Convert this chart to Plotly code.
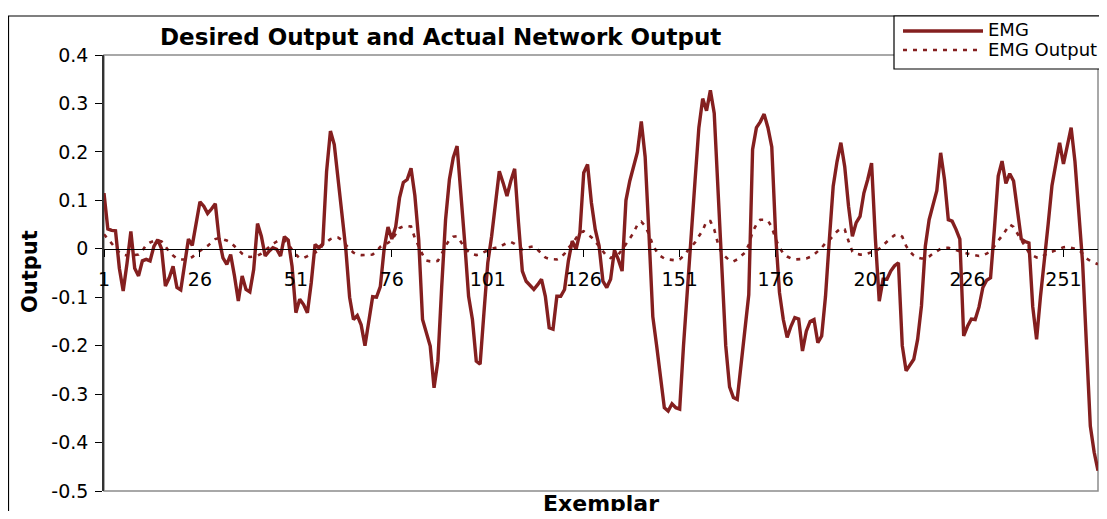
import plotly.graph_objects as go

# ---------------- data ----------------
emg = [
    0.115, 0.041, 0.038, 0.037, -0.04, -0.087, -0.03, 0.036, -0.04, -0.056,
    -0.025, -0.022, -0.025, 0.005, 0.019, 0.0, -0.077, -0.06, -0.036, -0.08,
    -0.085, -0.032, 0.02, 0.007, 0.05, 0.097, 0.088, 0.073, 0.082, 0.093,
    0.02, -0.019, -0.032, -0.012, -0.056, -0.108, -0.056, -0.084, -0.089, -0.043,
    0.052, 0.026, -0.015, -0.005, 0.002, -0.001, -0.015, 0.025, 0.018, -0.036,
    -0.132, -0.104, -0.115, -0.132, -0.07, 0.009, 0.002, 0.01, 0.16, 0.243,
    0.215, 0.143, 0.067, 0.0, -0.1, -0.146, -0.138, -0.157, -0.2, -0.146,
    -0.099, -0.1, -0.078, 0.0, 0.045, 0.02, 0.045, 0.105, 0.137, 0.143,
    0.166, 0.11, 0.019, -0.146, -0.177, -0.201, -0.287, -0.232, -0.077, 0.06,
    0.143, 0.188, 0.212, 0.122, 0.012, -0.098, -0.146, -0.232, -0.238, -0.132,
    -0.029, 0.026, 0.095, 0.16, 0.136, 0.109, 0.14, 0.165, 0.054, -0.046,
    -0.067, -0.075, -0.084, -0.074, -0.063, -0.098, -0.163, -0.166, -0.098, -0.098,
    -0.084, -0.025, 0.016, -0.001, 0.033, 0.157, 0.174, 0.095, 0.04, 0.006,
    -0.067, -0.08, -0.063, -0.003, -0.022, -0.046, 0.1, 0.14, 0.17, 0.2,
    0.263, 0.19, 0.03, -0.14, -0.2, -0.27, -0.328, -0.335, -0.32, -0.328,
    -0.331, -0.2, -0.08, 0.03, 0.14, 0.25, 0.31, 0.285, 0.327, 0.28,
    0.12, -0.05, -0.2, -0.285, -0.307, -0.311, -0.235, -0.16, -0.095, 0.205,
    0.25, 0.262, 0.278, 0.25, 0.21, 0.03, -0.09, -0.146, -0.183, -0.16,
    -0.142, -0.145, -0.211, -0.17, -0.15, -0.146, -0.194, -0.18, -0.098, 0.019,
    0.129, 0.18, 0.219, 0.17, 0.088, 0.026, 0.054, 0.067, 0.115, 0.143,
    0.177, 0.02, -0.108, -0.063, -0.063, -0.046, -0.035, -0.029, -0.2, -0.252,
    -0.24, -0.228, -0.187, -0.118, 0.005, 0.06, 0.09, 0.12, 0.198, 0.143,
    0.06, 0.057, 0.04, 0.02, -0.18, -0.16, -0.145, -0.146, -0.12, -0.08,
    -0.065, -0.06, 0.04, 0.15, 0.181, 0.135, 0.155, 0.14, 0.08, 0.02,
    0.015, 0.012, -0.12, -0.187, -0.1, -0.03, 0.05, 0.13, 0.175, 0.219,
    0.175, 0.215, 0.25, 0.18, 0.08, -0.03, -0.2, -0.366, -0.42, -0.458,
]

emg_output = [
    0.03, 0.02, 0.012, 0.0, -0.008, -0.012, -0.014, -0.014, -0.013, -0.012,
    -0.004, 0.008, 0.013, 0.016, 0.017, 0.015, 0.005, -0.006, -0.014, -0.02,
    -0.022, -0.022, -0.02, -0.017, -0.01, -0.004, 0.001, 0.006, 0.013, 0.02,
    0.022, 0.02, 0.017, 0.013, 0.005, -0.004, -0.01, -0.015, -0.017, -0.016,
    -0.014, -0.01, -0.003, 0.004, 0.01, 0.015, 0.019, 0.018, 0.01, -0.002,
    -0.012, -0.019, -0.019, -0.015, -0.01, -0.008, -0.004, 0.008, 0.014, 0.02,
    0.023, 0.023, 0.018, 0.008, -0.001, -0.008, -0.012, -0.013, -0.013, -0.012,
    -0.012, -0.005, 0.004, 0.009, 0.012, 0.018, 0.03, 0.043, 0.046, 0.047,
    0.046, 0.022, 0.005, -0.012, -0.024, -0.026, -0.026, -0.025, -0.01, 0.006,
    0.018, 0.025, 0.026, 0.014, 0.002, -0.006, -0.011, -0.013, -0.011, -0.007,
    -0.003, 0.0, 0.002, 0.003, 0.008, 0.012, 0.014, 0.01, 0.004, -0.001,
    0.002, 0.004, 0.005, -0.002, -0.01, -0.018, -0.021, -0.022, -0.022, -0.018,
    -0.01, 0.002, 0.01, 0.022, 0.033, 0.036, 0.03, 0.024, 0.015, 0.005,
    -0.006, -0.015, -0.019, -0.016, -0.012, -0.002, 0.01, 0.022, 0.033, 0.05,
    0.056, 0.047, 0.03, 0.008, -0.006, -0.015, -0.02, -0.022, -0.023, -0.024,
    -0.022, -0.015, -0.005, 0.005, 0.013, 0.026, 0.038, 0.057, 0.057, 0.04,
    0.01, -0.01, -0.018, -0.024, -0.026, -0.022, -0.015, -0.008, 0.008, 0.035,
    0.05, 0.06, 0.06, 0.058, 0.045, 0.02, 0.003, -0.01, -0.016, -0.02,
    -0.022, -0.022, -0.021, -0.02, -0.017, -0.012, -0.005, 0.002, 0.012, 0.018,
    0.027, 0.036, 0.042, 0.04, 0.016, -0.006, -0.01, -0.012, -0.012, -0.01,
    -0.008, -0.005, 0.0, 0.008, 0.016, 0.022, 0.028, 0.03, 0.025, 0.006,
    -0.006, -0.014, -0.018, -0.02, -0.02, -0.016, -0.01, -0.005, 0.0, 0.002,
    0.002, 0.0, -0.003, -0.006, -0.008, -0.01, -0.012, -0.014, -0.015, -0.013,
    -0.01, -0.005, 0.005, 0.015, 0.027, 0.038, 0.05, 0.045, 0.03, 0.018,
    0.005, -0.008, -0.014, -0.018, -0.019, -0.014, -0.008, -0.006, -0.003, 0.0,
    0.003, 0.004, 0.002, 0.0, -0.002, -0.01, -0.02, -0.025, -0.028, -0.032,
]

exemplar = list(range(1, len(emg) + 1))

x_tick_vals = [1, 26, 51, 76, 101, 126, 151, 176, 201, 226, 251]
x_tick_text = ["1", "26", "51", "76", "101", "126", "151", "176", "201", "226", "251"]
y_tick_vals = [0.4, 0.3, 0.2, 0.1, 0.0, -0.1, -0.2, -0.3, -0.4, -0.5]
y_tick_text = ["0.4", "0.3", "0.2", "0.1", "0", "-0.1", "-0.2", "-0.3", "-0.4", "-0.5"]

series_names = ["EMG", "EMG Output"]
title_text = "Desired Output and Actual Network Output"
x_title = "Exemplar"
y_title = "Output"

# ---------------- style ----------------
RED = "#841F1F"
FONT = "DejaVu Sans"
OFF = 8                      # the page body margin shifts the figure by 8 px
W, H = 1107 - 2 * OFF, 519 - 2 * OFF
# plot area in page pixels: left 104, right 1098, top 55, bottom 491
ML, MT = 104 - OFF, 55 - OFF
MR = W - (1098 - OFF)
MB = H - (491 - OFF)
PW, PH = W - ML - MR, H - MT - MB


def px(xpage):
    return (xpage - OFF - ML) / PW


def py(ypage):
    return (H - MB - (ypage - OFF)) / PH


Y_MIN, Y_MAX = -0.5, 0.4
zero_pos = (0 - Y_MIN) / (Y_MAX - Y_MIN)

fig = go.Figure()
fig.add_trace(go.Scatter(
    x=exemplar, y=emg, mode="lines", name=series_names[0],
    line=dict(color=RED, width=3.4), showlegend=False,
))
fig.add_trace(go.Scatter(
    x=exemplar, y=emg_output, mode="lines", name=series_names[1],
    line=dict(color=RED, width=2.6, dash="4px,6px"), showlegend=False,
))

axis_font = dict(family=FONT, size=19, color="black")

fig.update_layout(
    width=W, height=H,
    margin=dict(l=ML, r=MR, t=MT, b=MB, autoexpand=False),
    paper_bgcolor="white", plot_bgcolor="white",
    showlegend=False,
    xaxis=dict(
        range=[1, len(emg)], anchor="free", position=zero_pos,
        tickmode="array", tickvals=x_tick_vals, ticktext=x_tick_text,
        ticks="outside", ticklen=7, tickcolor="black", tickwidth=1,
        showline=True, linecolor="black", linewidth=1,
        showgrid=False, zeroline=False,
        tickfont=axis_font, ticklabelstandoff=6,
    ),
    xaxis2=dict(
        range=[1, len(emg)], anchor="free", position=zero_pos,
        overlaying="x", matches="x",
        tickmode="array", tickvals=x_tick_vals,
        ticks="inside", ticklen=7, tickcolor="black", tickwidth=1,
        showticklabels=False, showline=False, showgrid=False, zeroline=False,
    ),
    yaxis=dict(
        range=[Y_MIN, Y_MAX],
        tickmode="array", tickvals=y_tick_vals, ticktext=y_tick_text,
        ticks="outside", ticklen=7, tickcolor="black", tickwidth=1,
        showline=True, linecolor="#333333", linewidth=1.5,
        showgrid=False, zeroline=False,
        tickfont=axis_font, ticklabelstandoff=3,
    ),
)

shapes = [
    # plot area border (grey)
    dict(type="rect", xref="paper", yref="paper", x0=0, y0=0, x1=1, y1=1,
         line=dict(color="#8c8c8c", width=1.5), layer="below"),
    # outer chart border
    dict(type="rect", xref="paper", yref="paper",
         x0=px(8.5), y0=py(560), x1=px(1130), y1=py(16),
         line=dict(color="black", width=1.2)),
    # legend box
    dict(type="rect", xref="paper", yref="paper",
         x0=px(894), y0=py(69), x1=px(1130), y1=py(16),
         line=dict(color="black", width=1.2), fillcolor="white"),
    # legend samples
    dict(type="line", xref="paper", yref="paper",
         x0=px(903), x1=px(983), y0=py(31), y1=py(31),
         line=dict(color=RED, width=3.4)),
    dict(type="line", xref="paper", yref="paper",
         x0=px(903), x1=px(983), y0=py(50), y1=py(50),
         line=dict(color=RED, width=2.6, dash="4px,6px")),
]
fig.update_layout(shapes=shapes)

annotations = [
    dict(text=f"<b>{title_text}</b>", xref="paper", yref="paper",
         x=px(440), y=py(37), xanchor="center", yanchor="middle",
         showarrow=False, font=dict(family=FONT, size=23, color="black")),
    dict(text=f"<b>{y_title}</b>", xref="paper", yref="paper",
         x=px(30), y=py(272), xanchor="center", yanchor="middle", textangle=-90,
         showarrow=False, font=dict(family=FONT, size=21, color="black")),
    dict(text=f"<b>{x_title}</b>", xref="paper", yref="paper",
         x=px(601), y=py(503), xanchor="center", yanchor="middle",
         showarrow=False, font=dict(family=FONT, size=22, color="black")),
    dict(text=series_names[0], xref="paper", yref="paper",
         x=px(986), y=py(30), xanchor="left", yanchor="middle",
         showarrow=False, font=dict(family=FONT, size=18, color="black")),
    dict(text=series_names[1], xref="paper", yref="paper",
         x=px(986), y=py(50), xanchor="left", yanchor="middle",
         showarrow=False, font=dict(family=FONT, size=18, color="black")),
]
fig.update_layout(annotations=annotations)

fig.write_html("out.html")
